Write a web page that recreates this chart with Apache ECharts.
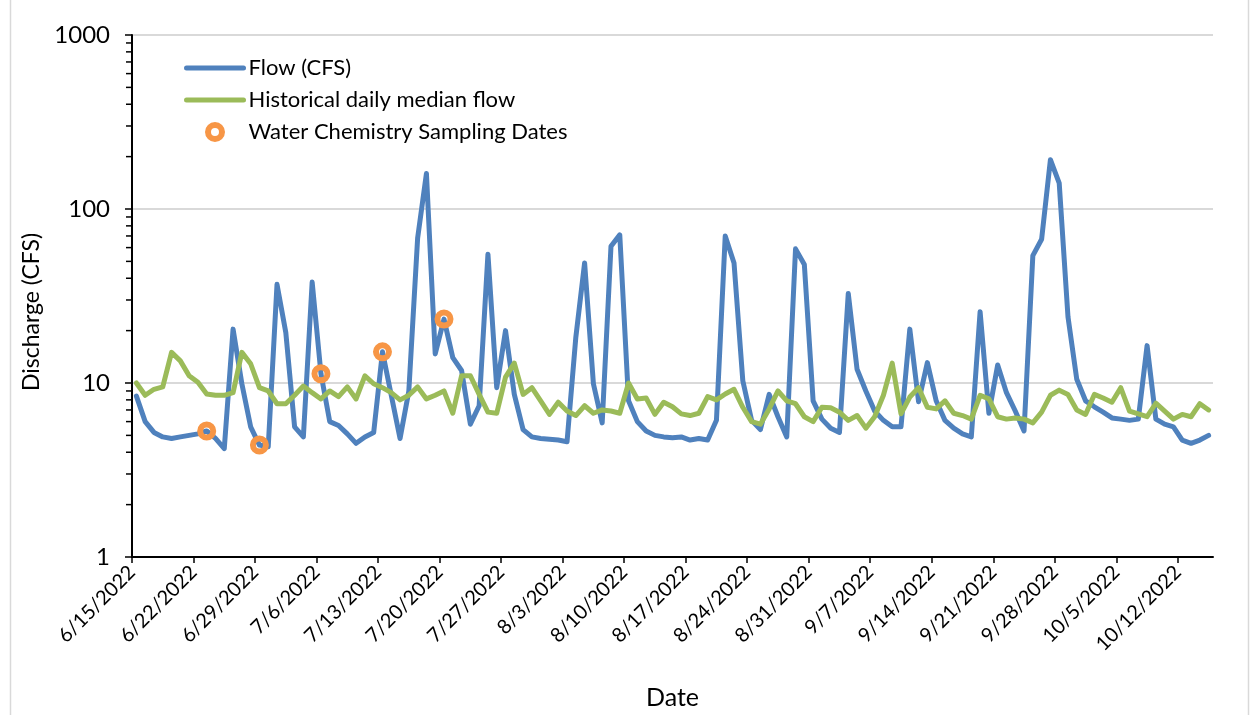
<!DOCTYPE html>
<html>
<head>
<meta charset="utf-8">
<title>Discharge</title>
<script src="https://cdn.jsdelivr.net/npm/echarts@6/dist/echarts.min.js"></script>
<style>
    html, body { margin: 0; padding: 0; background: #fff; }
    #chart { width: 1254px; height: 715px; }
</style>
</head>
<body>
<div id="chart"></div>
<script>
// daily values, one per day starting at startDate
const startDate = '6/15/2022';
const flow = [
    8.4, 6.0, 5.2, 4.9, 4.8, 4.9, 5.0, 5.1, 5.3, 4.8,
    4.2, 20.4, 9.9, 5.6, 4.4, 4.3, 36.9, 19.5, 5.6, 4.9,
    38, 11.3, 6.0, 5.7, 5.1, 4.5, 4.9, 5.2, 15.1, 8.5,
    4.8, 9.0, 68, 160, 14.7, 23.3, 14.0, 11.8, 5.8, 7.4,
    55, 9.4, 20, 8.6, 5.4, 4.9, 4.8, 4.75, 4.7, 4.6,
    18.3, 49, 9.9, 5.9, 61, 71, 7.9, 6.0, 5.3, 5.0,
    4.9, 4.85, 4.9, 4.7, 4.8, 4.7, 6.1, 70, 49, 10.3,
    6.1, 5.4, 8.6, 6.4, 4.9, 59, 48, 7.9, 6.2, 5.5,
    5.2, 32.7, 12.0, 9.0, 6.9, 6.1, 5.6, 5.6, 20.4, 7.8,
    13.1, 7.9, 6.1, 5.5, 5.1, 4.9, 25.7, 6.7, 12.7, 8.8,
    6.9, 5.3, 54, 67, 192, 141, 24, 10.5, 7.9, 7.3,
    6.8, 6.3, 6.2, 6.1, 6.2, 16.4, 6.2, 5.8, 5.6, 4.7,
    4.5, 4.7, 5.0
];
const median = [
    10.0, 8.5, 9.2, 9.5, 15.0, 13.4, 11.0, 10.1, 8.65, 8.5,
    8.5, 8.8, 15.0, 12.9, 9.4, 9.0, 7.6, 7.6, 8.5, 9.6,
    8.8, 8.1, 9.0, 8.35, 9.5, 8.1, 11.0, 9.9, 9.4, 8.8,
    8.0, 8.5, 9.5, 8.1, 8.5, 9.0, 6.7, 11.0, 11.0, 8.6,
    6.8, 6.7, 10.8, 13.0, 8.6, 9.4, 7.9, 6.6, 7.75, 6.9,
    6.5, 7.4, 6.7, 7.0, 6.9, 6.7, 10.0, 8.1, 8.2, 6.6,
    7.75, 7.3, 6.65, 6.5, 6.7, 8.35, 8.0, 8.65, 9.2, 7.25,
    6.0, 5.8, 7.1, 9.0, 7.9, 7.6, 6.4, 6.0, 7.25, 7.2,
    6.8, 6.1, 6.5, 5.5, 6.4, 8.5, 13.0, 6.65, 8.3, 9.4,
    7.25, 7.1, 7.9, 6.7, 6.5, 6.2, 8.5, 8.1, 6.4, 6.2,
    6.3, 6.2, 5.9, 6.8, 8.5, 9.1, 8.6, 7.0, 6.6, 8.6,
    8.2, 7.75, 9.4, 6.9, 6.65, 6.4, 7.65, 6.9, 6.2, 6.6,
    6.4, 7.6, 7.0
];
const samplingDates = ['6/23/2022', '6/29/2022', '7/6/2022', '7/13/2022', '7/20/2022'];
const samplingValues = [5.3, 4.4, 11.3, 15.1, 23.3];

const tickLabels = ['6/15/2022', '6/22/2022', '6/29/2022', '7/6/2022', '7/13/2022', '7/20/2022',
    '7/27/2022', '8/3/2022', '8/10/2022', '8/17/2022', '8/24/2022', '8/31/2022', '9/7/2022',
    '9/14/2022', '9/21/2022', '9/28/2022', '10/5/2022', '10/12/2022'];
const yMinorTicks = [2, 3, 4, 5, 6, 7, 8, 9, 20, 30, 40, 50, 60, 70, 80, 90,
    200, 300, 400, 500, 600, 700, 800, 900];

(function () {
    let chart = echarts.init(document.querySelector('#chart'));
    const font = 'Lato, "Open Sans", sans-serif';
    const DAY = 86400000;
    const blue = '#4F81BD', green = '#9BBB59', orange = '#F79646';

    function toTime(s) {
        let p = s.split('/');
        return Date.UTC(+p[2], +p[0] - 1, +p[1]);
    }
    // x is measured in days from startDate, each value centred in its day
    function dayOf(s) {
        return Math.round((toTime(s) - toTime(startDate)) / DAY);
    }

    let nDays = flow.length;
    let tickPos = tickLabels.map(dayOf);

    let option = {
        backgroundColor: '#fff',
        animation: false,
        textStyle: { fontFamily: font },
        graphic: [{
            type: 'rect',
            shape: { x: 10.5, y: -5, width: 1238, height: 730 },
            style: { fill: 'none', stroke: '#d9d9d9', lineWidth: 1.5 },
            silent: true
        }],
        grid: {
            left: 132,
            right: 41,
            top: 35,
            bottom: 154,
            containLabel: false
        },
        legend: {
            orient: 'vertical',
            left: 179,
            top: 52,
            itemWidth: 57,
            itemHeight: 14,
            itemGap: 10,
            data: [
                { name: 'Flow (CFS)', itemStyle: { opacity: 0 }, lineStyle: { width: 5, color: blue } },
                { name: 'Historical daily median flow', itemStyle: { opacity: 0 }, lineStyle: { width: 5, color: green } },
                { name: 'Water Chemistry Sampling Dates', itemStyle: { color: '#fff', borderColor: orange, borderWidth: 6 } }
            ],
            textStyle: { fontFamily: font, fontSize: 22, color: '#000' }
        },
        xAxis: {
            type: 'value',
            min: 0,
            max: nDays,
            interval: 7,
            name: 'Date',
            nameLocation: 'middle',
            nameGap: 128,
            nameTextStyle: { fontFamily: font, fontSize: 25, color: '#000' },
            axisLine: { show: true, onZero: false, lineStyle: { color: '#000', width: 2 } },
            axisTick: {
                show: true,
                customValues: tickPos,
                length: 6,
                lineStyle: { color: '#000', width: 1.5 }
            },
            axisLabel: {
                customValues: tickPos,
                rotate: 45,
                margin: 12,
                fontFamily: font,
                fontSize: 20,
                color: '#000',
                formatter: function (v) {
                    let k = tickPos.indexOf(Math.round(v));
                    return k >= 0 ? tickLabels[k] : '';
                }
            },
            splitLine: { show: false }
        },
        yAxis: {
            type: 'log',
            logBase: 10,
            min: 1,
            max: 1000,
            name: 'Discharge (CFS)',
            nameLocation: 'middle',
            nameGap: 86,
            nameTextStyle: { fontFamily: font, fontSize: 23, color: '#000', padding: [0, 32, 0, 0] },
            axisLine: { show: true, lineStyle: { color: '#000', width: 2 } },
            axisTick: { show: true, length: 7, lineStyle: { color: '#000', width: 1.5 } },
            axisLabel: {
                fontFamily: font,
                fontSize: 24,
                color: '#000',
                margin: 22,
                formatter: function (v) { return String(Math.round(v)); }
            },
            splitLine: { show: true, lineStyle: { color: '#d9d9d9', width: 2 } }
        },
        series: [
            {
                name: 'Flow (CFS)',
                type: 'line',
                data: flow.map((v, i) => [i + 0.5, v]),
                symbol: 'none',
                lineStyle: { color: blue, width: 5, cap: 'round', join: 'round' },
                itemStyle: { color: blue },
                z: 2
            },
            {
                name: 'Historical daily median flow',
                type: 'line',
                data: median.map((v, i) => [i + 0.5, v]),
                symbol: 'none',
                lineStyle: { color: green, width: 5, cap: 'round', join: 'round' },
                itemStyle: { color: green },
                z: 3
            },
            {
                name: 'Water Chemistry Sampling Dates',
                type: 'scatter',
                data: samplingDates.map((d, k) => [dayOf(d) + 0.5, samplingValues[k]]),
                symbol: 'circle',
                symbolSize: 13,
                itemStyle: { color: 'rgba(255,255,255,0)', borderColor: orange, borderWidth: 6, opacity: 1 },
                z: 4
            },
            {
                // minor ticks on the log axis at 2..9 of each decade
                type: 'custom',
                silent: true,
                clip: false,
                data: yMinorTicks.map(v => [0, v]),
                renderItem: function (params, api) {
                    let p = api.coord([api.value(0), api.value(1)]);
                    return {
                        type: 'line',
                        shape: { x1: p[0] - 6, y1: p[1], x2: p[0], y2: p[1] },
                        style: { stroke: '#000', lineWidth: 1.5 }
                    };
                },
                z: 5
            }
        ]
    };

    chart.setOption(option);
})();
</script>
</body>
</html>
